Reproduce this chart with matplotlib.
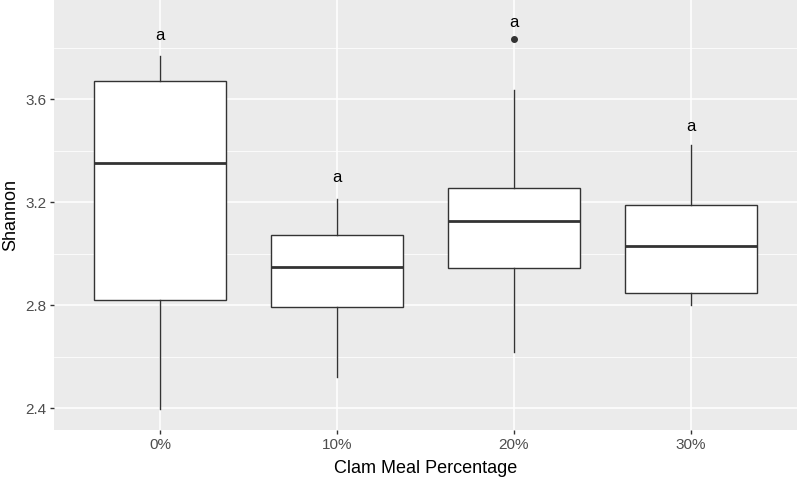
import matplotlib.pyplot as plt
import numpy as np

plt.rcParams['font.family'] = ['Liberation Sans', 'DejaVu Sans']

groups = ["0%", "10%", "20%", "30%"]
whisk_lo = [2.397, 2.522, 2.619, 2.800]
q1 = [2.821, 2.794, 2.945, 2.848]
med = [3.353, 2.949, 3.128, 3.030]
q3 = [3.672, 3.073, 3.257, 3.188]
whisk_hi = [3.769, 3.215, 3.636, 3.421]
outliers = [[], [], [3.836], []]
letters = ["a", "a", "a", "a"]
letter_y = [3.847, 3.296, 3.897, 3.496]

stats = []
for i in range(len(groups)):
    stats.append({"whislo": whisk_lo[i], "q1": q1[i], "med": med[i],
                  "q3": q3[i], "whishi": whisk_hi[i], "fliers": outliers[i]})

fig = plt.figure(figsize=(7.97, 4.79), dpi=100)
ax = fig.add_axes([54 / 797, 49 / 479, 1 - 54 / 797, 1 - 49 / 479])
ax.set_facecolor("#EBEBEB")

pos = np.arange(1, len(groups) + 1)
ax.bxp(stats, positions=pos, widths=0.75, patch_artist=True, showcaps=False,
       boxprops=dict(facecolor="white", edgecolor="#333333", linewidth=1.0),
       medianprops=dict(color="#333333", linewidth=2.0),
       whiskerprops=dict(color="#333333", linewidth=1.0),
       flierprops=dict(marker="o", markersize=4, markerfacecolor="#333333",
                       markeredgecolor="#333333"),
       zorder=3)

for x, y, t in zip(pos, letter_y, letters):
    ax.text(x, y, t, ha="center", va="center", fontsize=12, color="black", zorder=4)

ax.set_xlim(0.4, 4.6)
ax.set_ylim(2.316, 3.986)
ax.set_yticks([2.4, 2.8, 3.2, 3.6])
ax.set_yticklabels(["2.4", "2.8", "3.2", "3.6"])
ax.set_yticks([2.6, 3.0, 3.4, 3.8], minor=True)
ax.set_xticks(pos)
ax.set_xticklabels(groups)

ax.grid(which="major", color="white", linewidth=1.1, zorder=0)
ax.grid(which="minor", axis="y", color="white", linewidth=0.55, zorder=0)
ax.set_axisbelow(True)
for s in ax.spines.values():
    s.set_visible(False)
ax.tick_params(which="major", length=3, color="#333333", labelsize=11,
               labelcolor="#4D4D4D", width=1, pad=2.5)
ax.tick_params(which="minor", length=0)

ax.set_xlabel("Clam Meal Percentage", fontsize=13, labelpad=6)
ax.set_ylabel("Shannon", fontsize=13, labelpad=4)

fig.savefig("out.png", dpi=100)
